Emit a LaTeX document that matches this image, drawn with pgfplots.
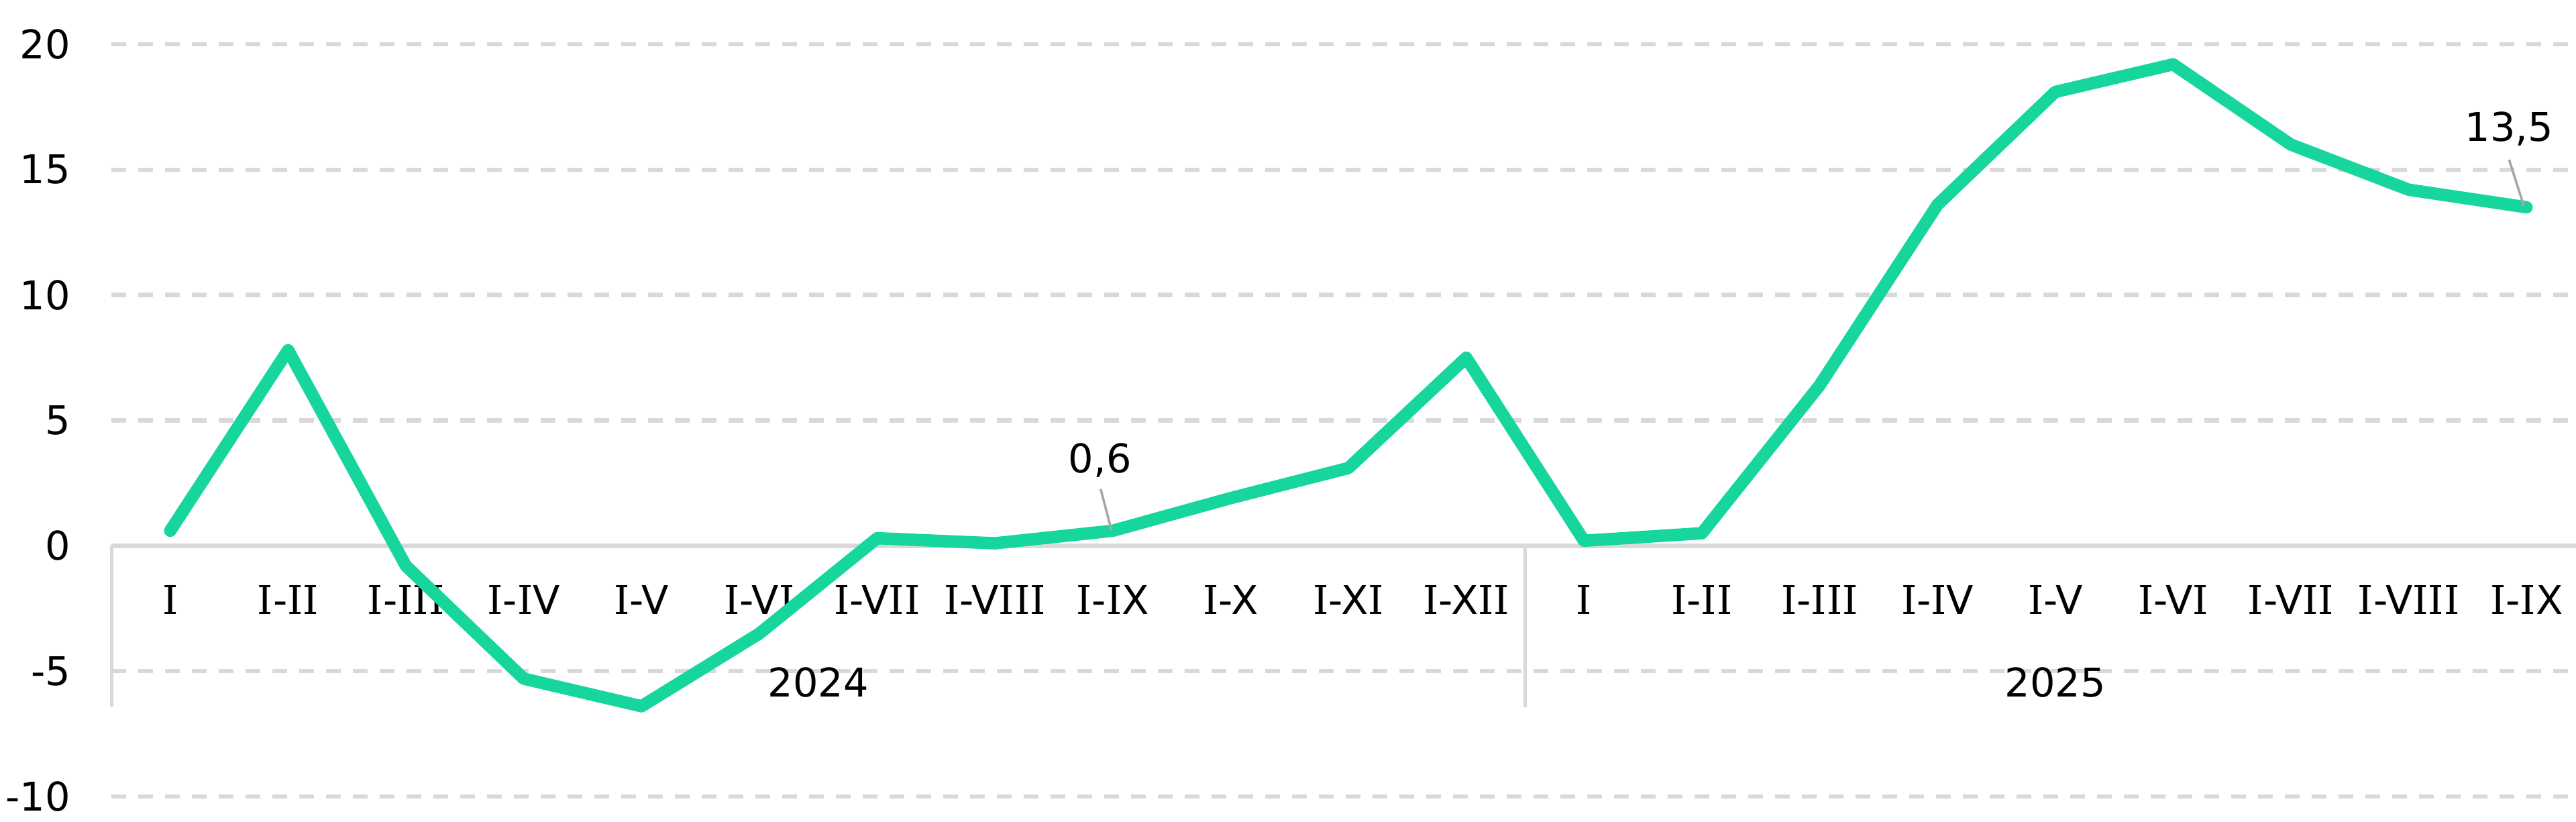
\documentclass[border=0pt]{standalone}
\usepackage{fontspec}
\setmainfont{DejaVu Sans}
\newfontfamily\ifont{DejaVu Serif}
\usepackage{pgfplots}
\pgfplotsset{compat=1.18}
\definecolor{linegreen}{RGB}{22,214,158}
\definecolor{gridgray}{RGB}{217,217,217}
\definecolor{leadergray}{RGB}{166,166,166}
% serifed capital I, as in the reference's roman numerals
\newcommand\I{{\ifont I}}

\begin{document}
\begin{tikzpicture}[font=\fontsize{11.8pt}{14pt}\selectfont]
\begin{axis}[
  at={(33.2pt,7.4pt)}, anchor=south west,
  scale only axis, width=734.8pt, height=224.2pt,
  xmin=-0.5, xmax=20.42, ymin=-10, ymax=20,
  axis x line=middle, axis y line=left,
  x axis line style={draw=gridgray, line width=1.3pt, -},
  y axis line style={draw=none},
  hide obscured x ticks=false, hide obscured y ticks=false,
  xtick={0,...,20},
  xticklabels={\I,\I-\I\I,\I-\I\I\I,\I-\I V,\I-V,\I-V\I,\I-V\I\I,\I-V\I\I\I,\I-\I X,\I-X,\I-X\I,\I-X\I\I,
               \I,\I-\I\I,\I-\I\I\I,\I-\I V,\I-V,\I-V\I,\I-V\I\I,\I-V\I\I\I,\I-\I X},
  ytick={-10,-5,...,20},
  major tick length=0pt,
  ymajorgrids,
  grid style={gridgray, line width=1.3pt, dash pattern=on 4.4pt off 3.6pt},
  tick label style={font=\fontsize{11.8pt}{14pt}\selectfont},
  xticklabel style={anchor=center, yshift=-16.2pt, inner sep=0pt},
  yticklabel style={anchor=east, inner sep=0pt, xshift=-12pt},
  /pgf/number format/assume math mode=true,
  clip=false,
]
% year separators
\draw[gridgray, line width=1pt] (axis cs:-0.5,0) -- (axis cs:-0.5,-6.45);
\draw[gridgray, line width=1pt] (axis cs:11.5,0) -- (axis cs:11.5,-6.45);

\addplot[linegreen, line width=3.7pt, line cap=round, line join=round] coordinates {
  (0,0.6) (1,7.8) (2,-0.8) (3,-5.3) (4,-6.4) (5,-3.5) (6,0.3) (7,0.1)
  (8,0.6) (9,1.9) (10,3.1) (11,7.5)
  (12,0.2) (13,0.5) (14,6.4) (15,13.6) (16,18.1) (17,19.2) (18,16.0)
  (19,14.2) (20,13.5)
};

% data labels
\draw[leadergray, line width=0.7pt] ([shift={(-3.6pt,12.4pt)}]axis cs:8,0.6) -- ([shift={(-0.4pt,0.2pt)}]axis cs:8,0.6);
\node at (axis cs:8,0.6) [xshift=-3.8pt, yshift=21pt] {0,6};
\draw[leadergray, line width=0.7pt] ([shift={(-5.2pt,14.2pt)}]axis cs:20,13.5) -- ([shift={(-0.8pt,0.4pt)}]axis cs:20,13.5);
\node at (axis cs:20,13.5) [xshift=-5.2pt, yshift=23.4pt] {13,5};

% years
\node at (axis cs:5.5,0) [yshift=-40.8pt] {2024};
\node at (axis cs:16,0) [yshift=-40.8pt] {2025};
\end{axis}
\pgfresetboundingbox
\useasboundingbox (0,0) rectangle (768pt,244.8pt);
\end{tikzpicture}
\end{document}
